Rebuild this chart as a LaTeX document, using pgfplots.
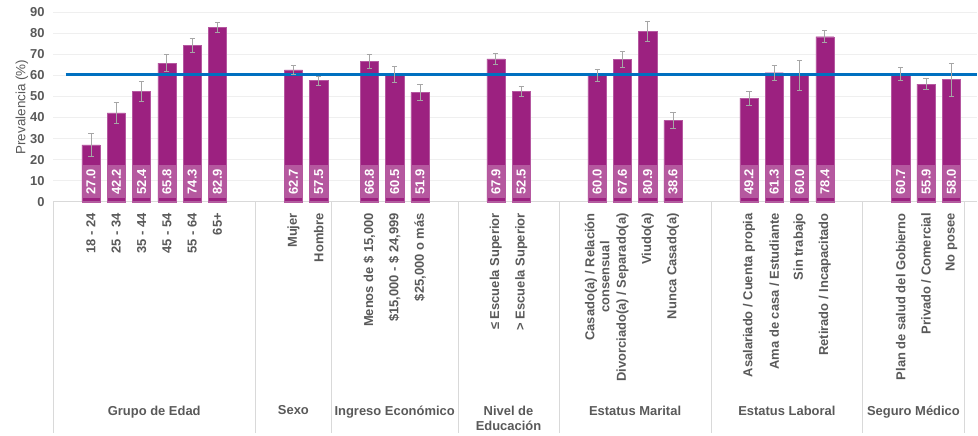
\documentclass[border=0pt]{standalone}
\usepackage{pgfplots}
\pgfplotsset{compat=1.18}
\usepackage{pgfplotstable}
\usepackage{fontspec}
\setmainfont{Liberation Sans}
\definecolor{barcol}{HTML}{9C2180}
\definecolor{boxcol}{HTML}{B5589F}
\definecolor{linecol}{HTML}{0070C0}
\definecolor{labgray}{HTML}{595959}
\definecolor{sepcol}{HTML}{D9D9D9}
\definecolor{gridcol}{HTML}{EFEFEF}
\definecolor{errcol}{HTML}{A6A6A6}
\newcommand\lab{\fontsize{13}{15}\selectfont\bfseries}
\newcommand\ylab{\fontsize{13.5}{15}\selectfont}
\pgfplotstableread{
x v e ly
2 27.0 5.4 9.5
3 42.2 5.0 9.5
4 52.4 4.7 9.5
5 65.8 4.0 9.5
6 74.3 3.4 9.5
7 82.9 2.5 9.5
10 62.7 2.2 9.5
11 57.5 2.2 9.5
13 66.8 3.3 9.5
14 60.5 3.8 9.5
15 51.9 3.7 9.5
18 67.9 2.8 9.5
19 52.5 2.5 9.5
22 60.0 2.7 9.5
23 67.6 3.9 9.5
24 80.9 4.7 9.5
25 38.6 3.8 9.5
28 49.2 3.3 9.5
29 61.3 3.6 9.5
30 60.0 7.3 9.5
31 78.4 2.9 9.5
34 60.7 3.0 9.5
35 55.9 2.7 9.5
36 58.0 7.8 9.5
}\data
\begin{document}
\begin{tikzpicture}
\begin{axis}[
  scale only axis,
  width=923.7bp, height=189.4bp,
  xmin=0.5, xmax=37, ymin=0, ymax=90,
  ytick={0,10,...,90},
  ymajorgrids, grid style={draw=gridcol, line width=0.6bp},
  axis lines*=left,
  y axis line style={draw=none},
  x axis line style={draw=sepcol, line width=0.8bp},
  major tick length=0pt,
  /pgf/number format/assume math mode=true,
  yticklabel style={font=\lab, text=labgray, xshift=-5bp},
  xtick={2,3,4,5,6,7,10,11,13,14,15,18,19,22,23,24,25,28,29,30,31,34,35,36},
  xticklabels={{18 - 24}, {25 - 34}, {35 - 44}, {45 - 54}, {55 - 64}, {65+},
    {Mujer}, {Hombre},
    {Menos de \$ 15,000}, {\$15,000 - \$ 24,999}, {\$25,000 o más},
    {≤~Escuela Superior}, {>~Escuela Superior},
    {Casado(a) / Relación\\consensual}, {Divorciado(a) / Separado(a)}, {Viudo(a)}, {Nunca Casado(a)},
    {Asalariado / Cuenta propia}, {Ama de casa / Estudiante}, {Sin trabajo}, {Retirado / Incapacitado},
    {Plan de salud del Gobierno}, {Privado / Comercial}, {No posee}},
  xticklabel style={rotate=90, anchor=east, align=center, font=\lab, text=labgray, xshift=-8bp},
  ylabel={Prevalencia (\%)},
  ylabel style={font=\ylab, text=labgray},
  ylabel shift=-5bp,
  clip=false,
]
\addplot[ybar, bar width=0.72, fill=barcol, draw=barcol!75!white, line width=0.4bp] table[x=x, y=v]{\data};
\addplot[draw=none, mark=none, point meta=explicit,
  nodes near coords={\pgfmathprintnumber[fixed,fixed zerofill,precision=1]{\pgfplotspointmeta}},
  nodes near coords style={anchor=center, rotate=90, fill=boxcol, draw=none, text=white, font=\lab,
    inner sep=0pt, minimum width=33.5bp, minimum height=18.2bp}]
  table[x=x, y=ly, meta=v]{\data};
\addplot[linecol, line width=2.8bp, mark=none] coordinates {(1,60.3) (37,60.3)};
\addplot[draw=none, mark=none,
  error bars/.cd, y dir=both, y explicit,
  error bar style={draw=errcol, line width=0.8bp, solid},
  error mark options={draw=errcol, line width=0.8bp, mark size=2.6bp, solid, rotate=90}]
  table[x=x, y=v, y error=e]{\data};
\draw[sepcol, line width=0.8bp] (axis cs:0.5,0) -- ([yshift=-231bp]axis cs:0.5,0);
\draw[sepcol, line width=0.8bp] (axis cs:8.5,0) -- ([yshift=-231bp]axis cs:8.5,0);
\draw[sepcol, line width=0.8bp] (axis cs:11.5,0) -- ([yshift=-231bp]axis cs:11.5,0);
\draw[sepcol, line width=0.8bp] (axis cs:16.5,0) -- ([yshift=-231bp]axis cs:16.5,0);
\draw[sepcol, line width=0.8bp] (axis cs:20.5,0) -- ([yshift=-231bp]axis cs:20.5,0);
\draw[sepcol, line width=0.8bp] (axis cs:26.5,0) -- ([yshift=-231bp]axis cs:26.5,0);
\draw[sepcol, line width=0.8bp] (axis cs:32.5,0) -- ([yshift=-231bp]axis cs:32.5,0);
\draw[sepcol, line width=0.8bp] (axis cs:36.5,0) -- ([yshift=-231bp]axis cs:36.5,0);
\tikzset{grp/.style={anchor=north, align=center, font=\lab, text=labgray, inner sep=0pt}}
\node[grp] at ([yshift=-204bp]axis cs:4.5,0) {Grupo de Edad};
\node[grp] at ([yshift=-204bp]axis cs:10,0) {Sexo};
\node[grp] at ([yshift=-204bp]axis cs:14,0) {Ingreso Económico};
\node[grp] at ([yshift=-204bp]axis cs:18.5,0) {Nivel de\\Educación};
\node[grp] at ([yshift=-204bp]axis cs:23.5,0) {Estatus Marital};
\node[grp] at ([yshift=-204bp]axis cs:29.5,0) {Estatus Laboral};
\node[grp] at ([yshift=-204bp]axis cs:34.5,0) {Seguro Médico};
\coordinate (O) at (rel axis cs:0,0);
\end{axis}
\pgfresetboundingbox
\path[use as bounding box] ([shift={(-53bp,-234.3bp)}]O) rectangle ([shift={(925bp,201.7bp)}]O);
\end{tikzpicture}
\end{document}
